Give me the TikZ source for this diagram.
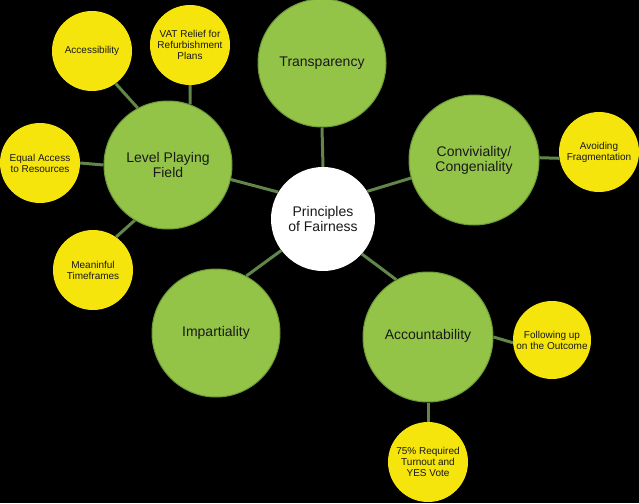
\documentclass[tikz,border=0pt]{standalone}
\usepackage{fontspec}
\setmainfont{Liberation Sans}
\definecolor{leafgreen}{HTML}{93C447}
\definecolor{leafedge}{HTML}{6E9A3A}
\definecolor{sunyellow}{HTML}{F5E50C}
\definecolor{linkgreen}{HTML}{62864A}
\tikzset{
  bigc/.style={circle, fill=leafgreen, draw=leafedge, line width=1pt, inner sep=0pt, minimum size=128pt, align=center, font=\fontsize{14}{15}\selectfont, text=black!90},
  smallc/.style={circle, fill=sunyellow, draw=none, inner sep=0pt, minimum size=80pt, align=center, font=\fontsize{10}{11}\selectfont, text=black!90},
  hubc/.style={circle, fill=white, draw=none, inner sep=0pt, minimum size=104pt, align=center, font=\fontsize{14}{15}\selectfont, text=black!90},
  link/.style={draw=linkgreen, line width=3pt}
}
\begin{document}
\begin{tikzpicture}[x=1pt,y=-1pt]
\fill[black] (0,0) rectangle (639,503);
\useasboundingbox (0,0) rectangle (639,503);
% hub and main circles
\node[hubc] (pf) at (323,219) {Principles\\of Fairness};
\node[bigc] (tr) at (322,63) {\raisebox{3pt}{Transparency}};
\node[bigc] (lpf) at (168,165) {Level Playing\\Field};
\node[bigc, minimum size=130pt] (conv) at (474,160) {Conviviality/\\Congeniality};
\node[bigc] (imp) at (216,333) {Impartiality};
\node[bigc, minimum size=130pt] (acc) at (428,337) {\raisebox{5pt}{Accountability}};
% small circles
\node[smallc] (access) at (92,51) {Accessibility};
\node[smallc] (vat) at (190,45) {VAT Relief for\\Refurbishment\\Plans};
\node[smallc] (eq) at (40,163) {Equal Access\\to Resources};
\node[smallc] (mt) at (93,270) {Meaninful\\Timeframes};
\node[smallc] (af) at (599,152) {Avoiding\\Fragmentation};
\node[smallc, minimum size=78pt] (fu) at (552,340) {Following up\\on the Outcome};
\node[smallc] (v75) at (428,462) {75\% Required\\Turnout and\\YES Vote};
% connectors
\draw[link] (tr.south) -- (pf.north);
\draw[link] (lpf.-13) -- (pf.149);
\draw[link] (pf.32) -- (conv.196);
\draw[link] (pf.217) -- (imp.62);
\draw[link] (pf.-42) -- (acc.119);
\draw[link] (access.-54) -- (lpf.118);
\draw[link] (vat.south) -- (lpf.70);
\draw[link] (eq.east) -- (lpf.west);
\draw[link] (mt.55) -- (lpf.239);
\draw[link] (conv.2) -- (af.189);
\draw[link] (acc.east) -- (fu.184);
\draw[link] (acc.south) -- (v75.north);
\end{tikzpicture}
\end{document}
